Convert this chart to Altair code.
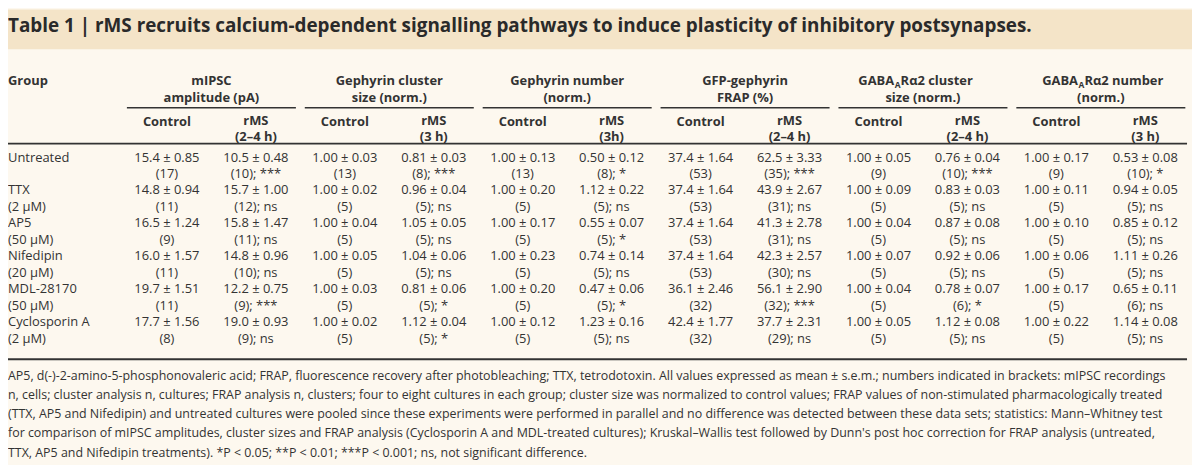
import altair as alt
import pandas as pd

# ---------------- data ----------------
title_text = ("Table 1 | rMS recruits calcium-dependent signalling pathways to induce "
              "plasticity of inhibitory postsynapses.")

groups = ["Untreated", "TTX", "AP5", "Nifedipin", "MDL-28170", "Cyclosporin A"]
concs = ["", "(2 μM)", "(50 μM)", "(20 μM)", "(50 μM)", "(2 μM)"]

measure_line1 = ["mIPSC", "Gephyrin cluster", "Gephyrin number", "GFP-gephyrin"]
measure_line2 = ["amplitude (pA)", "size (norm.)", "(norm.)", "FRAP (%)", "size (norm.)", "(norm.)"]
gaba_tail = ["Rα2 cluster", "Rα2 number"]
sub_control = ["Control"] * 6
sub_rms = ["rMS"] * 6
sub_time = ["(2–4 h)", "(3 h)", "(3h)", "(2–4 h)", "(2–4 h)", "(3 h)"]

mipsc_ctrl_mean = [15.4, 14.8, 16.5, 16.0, 19.7, 17.7]
mipsc_ctrl_sem = [0.85, 0.94, 1.24, 1.57, 1.51, 1.56]
mipsc_ctrl_n = [17, 11, 9, 11, 11, 8]
mipsc_rms_mean = [10.5, 15.7, 15.8, 14.8, 12.2, 19.0]
mipsc_rms_sem = [0.48, 1.00, 1.47, 0.96, 0.75, 0.93]
mipsc_rms_n = [10, 12, 11, 10, 9, 9]
mipsc_rms_sig = ["***", "ns", "ns", "ns", "***", "ns"]

gcs_ctrl_mean = [1.00, 1.00, 1.00, 1.00, 1.00, 1.00]
gcs_ctrl_sem = [0.03, 0.02, 0.04, 0.05, 0.03, 0.02]
gcs_ctrl_n = [13, 5, 5, 5, 5, 5]
gcs_rms_mean = [0.81, 0.96, 1.05, 1.04, 0.81, 1.12]
gcs_rms_sem = [0.03, 0.04, 0.05, 0.06, 0.06, 0.04]
gcs_rms_n = [8, 5, 5, 5, 5, 5]
gcs_rms_sig = ["***", "ns", "ns", "ns", "*", "*"]

gn_ctrl_mean = [1.00, 1.00, 1.00, 1.00, 1.00, 1.00]
gn_ctrl_sem = [0.13, 0.20, 0.17, 0.23, 0.20, 0.12]
gn_ctrl_n = [13, 5, 5, 5, 5, 5]
gn_rms_mean = [0.50, 1.12, 0.55, 0.74, 0.47, 1.23]
gn_rms_sem = [0.12, 0.22, 0.07, 0.14, 0.06, 0.16]
gn_rms_n = [8, 5, 5, 5, 5, 5]
gn_rms_sig = ["*", "ns", "*", "ns", "*", "ns"]

frap_ctrl_mean = [37.4, 37.4, 37.4, 37.4, 36.1, 42.4]
frap_ctrl_sem = [1.64, 1.64, 1.64, 1.64, 2.46, 1.77]
frap_ctrl_n = [53, 53, 53, 53, 32, 32]
frap_rms_mean = [62.5, 43.9, 41.3, 42.3, 56.1, 37.7]
frap_rms_sem = [3.33, 2.67, 2.78, 2.57, 2.90, 2.31]
frap_rms_n = [35, 31, 31, 30, 32, 29]
frap_rms_sig = ["***", "ns", "ns", "ns", "***", "ns"]

gabac_ctrl_mean = [1.00, 1.00, 1.00, 1.00, 1.00, 1.00]
gabac_ctrl_sem = [0.05, 0.09, 0.04, 0.07, 0.04, 0.05]
gabac_ctrl_n = [9, 5, 5, 5, 5, 5]
gabac_rms_mean = [0.76, 0.83, 0.87, 0.92, 0.78, 1.12]
gabac_rms_sem = [0.04, 0.03, 0.08, 0.06, 0.07, 0.08]
gabac_rms_n = [10, 5, 5, 5, 6, 5]
gabac_rms_sig = ["***", "ns", "ns", "ns", "*", "ns"]

gaban_ctrl_mean = [1.00, 1.00, 1.00, 1.00, 1.00, 1.00]
gaban_ctrl_sem = [0.17, 0.11, 0.10, 0.06, 0.17, 0.22]
gaban_ctrl_n = [9, 5, 5, 5, 5, 5]
gaban_rms_mean = [0.53, 0.94, 0.85, 1.11, 0.65, 1.14]
gaban_rms_sem = [0.08, 0.05, 0.12, 0.26, 0.11, 0.08]
gaban_rms_n = [10, 5, 5, 5, 6, 5]
gaban_rms_sig = ["*", "ns", "ns", "ns", "ns", "ns"]

footnote_lines = [
    "AP5, d(-)-2-amino-5-phosphonovaleric acid; FRAP, fluorescence recovery after photobleaching; TTX, tetrodotoxin. All values expressed as mean ± s.e.m.; numbers indicated in brackets: mIPSC recordings",
    "n, cells; cluster analysis n, cultures; FRAP analysis n, clusters; four to eight cultures in each group; cluster size was normalized to control values; FRAP values of non-stimulated pharmacologically treated",
    "(TTX, AP5 and Nifedipin) and untreated cultures were pooled since these experiments were performed in parallel and no difference was detected between these data sets; statistics: Mann–Whitney test",
    "for comparison of mIPSC amplitudes, cluster sizes and FRAP analysis (Cyclosporin A and MDL-treated cultures); Kruskal–Wallis test followed by Dunn's post hoc correction for FRAP analysis (untreated,",
    "TTX, AP5 and Nifedipin treatments). *P < 0.05; **P < 0.01; ***P < 0.001; ns, not significant difference.",
]

# ---------------- tables ----------------
columns = [
    (mipsc_ctrl_mean, mipsc_ctrl_sem, mipsc_ctrl_n, None, 1),
    (mipsc_rms_mean, mipsc_rms_sem, mipsc_rms_n, mipsc_rms_sig, 1),
    (gcs_ctrl_mean, gcs_ctrl_sem, gcs_ctrl_n, None, 2),
    (gcs_rms_mean, gcs_rms_sem, gcs_rms_n, gcs_rms_sig, 2),
    (gn_ctrl_mean, gn_ctrl_sem, gn_ctrl_n, None, 2),
    (gn_rms_mean, gn_rms_sem, gn_rms_n, gn_rms_sig, 2),
    (frap_ctrl_mean, frap_ctrl_sem, frap_ctrl_n, None, 1),
    (frap_rms_mean, frap_rms_sem, frap_rms_n, frap_rms_sig, 1),
    (gabac_ctrl_mean, gabac_ctrl_sem, gabac_ctrl_n, None, 2),
    (gabac_rms_mean, gabac_rms_sem, gabac_rms_n, gabac_rms_sig, 2),
    (gaban_ctrl_mean, gaban_ctrl_sem, gaban_ctrl_n, None, 2),
    (gaban_rms_mean, gaban_rms_sem, gaban_rms_n, gaban_rms_sig, 2),
]

cell_rows = []
for ci, (means, sems, ns, sigs, dec) in enumerate(columns):
    for gi in range(len(groups)):
        cell_rows.append({"ci": ci, "line": 2 * gi,
                          "text": f"{means[gi]:.{dec}f} ± {sems[gi]:.2f}"})
        ntxt = f"({ns[gi]})" if sigs is None else f"({ns[gi]}); {sigs[gi]}"
        cell_rows.append({"ci": ci, "line": 2 * gi + 1, "text": ntxt})
cells = pd.DataFrame(cell_rows)

grp_rows = []
for gi, (g, c) in enumerate(zip(groups, concs)):
    grp_rows.append({"line": 2 * gi, "text": g})
    if c:
        grp_rows.append({"line": 2 * gi + 1, "text": c})
grp_df = pd.DataFrame(grp_rows)

pair_centers = [2 * k + 0.5 for k in range(6)]
head1_df = pd.DataFrame({"ci": pair_centers[:4], "text": measure_line1})
head2_df = pd.DataFrame({"ci": pair_centers, "text": measure_line2})
gaba_df = pd.DataFrame({"ci": pair_centers[4:], "tail": gaba_tail})
rule_df = pd.DataFrame({"x0": [2 * k - 0.45 for k in range(6)],
                        "x1": [2 * k + 1.45 for k in range(6)]})
ctrl_df = pd.DataFrame({"ci": [2 * k for k in range(6)], "text": sub_control})
rms_df = pd.DataFrame({"ci": [2 * k + 1 for k in range(6)], "text": sub_rms, "time": sub_time})
foot_df = pd.DataFrame({"fl": list(range(len(footnote_lines))), "text": footnote_lines})
one = pd.DataFrame({"a": [0]})

# ---------------- styles ----------------
W, H = 1192, 457
FONT = "Open Sans"
INK = "#333333"
BAND = "#f4e4c8"
BODY = "#fdf8ef"

xs = alt.Scale(domain=[0, 11], range=[160, 1145], nice=False, zero=False)
ys = alt.Scale(domain=[0, 11], range=[149, 331.6], nice=False, zero=False)
fs = alt.Scale(domain=[0, 4], range=[369, 446], nice=False, zero=False)


def txt(**kw):
    base = dict(font=FONT, color=INK, baseline="middle")
    base.update(kw)
    return base


band = alt.Chart(one).mark_rect(color=BAND).encode(
    x=alt.value(0), x2=alt.value(W), y=alt.value(0), y2=alt.value(40))

title = alt.Chart(pd.DataFrame({"text": [title_text]})).mark_text(
    **txt(align="left", fontSize=19, fontWeight="bold", color="#2a2a2a")
).encode(x=alt.value(0), y=alt.value(17), text="text:N")

group_head = alt.Chart(pd.DataFrame({"text": ["Group"]})).mark_text(
    **txt(align="left", fontSize=13, fontWeight="bold")
).encode(x=alt.value(0), y=alt.value(72), text="text:N")

h1 = alt.Chart(head1_df).mark_text(**txt(align="center", fontSize=13, fontWeight="bold")).encode(
    x=alt.X("ci:Q", scale=xs, axis=None), y=alt.value(72), text="text:N")
h2 = alt.Chart(head2_df).mark_text(**txt(align="center", fontSize=13, fontWeight="bold")).encode(
    x=alt.X("ci:Q", scale=xs, axis=None), y=alt.value(89), text="text:N")

# GABA_A R alpha2 headers: "GABA" + subscript "A" + tail
gaba_parts = []
for i, off in enumerate([-29, -23]):
    sub = gaba_df.iloc[[i]]
    gaba_parts.append(
        alt.Chart(sub).mark_text(**txt(align="right", fontSize=13, fontWeight="bold"), dx=off).encode(
            x=alt.X("ci:Q", scale=xs, axis=None), y=alt.value(72), text=alt.value("GABA")))
    gaba_parts.append(
        alt.Chart(sub).mark_text(**txt(align="left", fontSize=8.5, fontWeight="bold"), dx=off + 0.5).encode(
            x=alt.X("ci:Q", scale=xs, axis=None), y=alt.value(76), text=alt.value("A")))
    gaba_parts.append(
        alt.Chart(sub).mark_text(**txt(align="left", fontSize=13, fontWeight="bold"), dx=off + 6.5).encode(
            x=alt.X("ci:Q", scale=xs, axis=None), y=alt.value(72), text="tail:N"))

thin_rules = alt.Chart(rule_df).mark_rule(color=INK, strokeWidth=1.5).encode(
    x=alt.X("x0:Q", scale=xs, axis=None), x2="x1:Q", y=alt.value(99))

ctrl = alt.Chart(ctrl_df).mark_text(**txt(align="center", fontSize=13, fontWeight="bold")).encode(
    x=alt.X("ci:Q", scale=xs, axis=None), y=alt.value(113), text="text:N")
rms1 = alt.Chart(rms_df).mark_text(**txt(align="center", fontSize=13, fontWeight="bold")).encode(
    x=alt.X("ci:Q", scale=xs, axis=None), y=alt.value(112), text="text:N")
rms2 = alt.Chart(rms_df).mark_text(**txt(align="center", fontSize=13, fontWeight="bold")).encode(
    x=alt.X("ci:Q", scale=xs, axis=None), y=alt.value(128), text="time:N")

thick_rule = alt.Chart(one).mark_rule(color=INK, strokeWidth=2).encode(
    x=alt.value(-2), x2=alt.value(1187), y=alt.value(135))
bottom_rule = alt.Chart(one).mark_rule(color=INK, strokeWidth=2).encode(
    x=alt.value(-2), x2=alt.value(1187), y=alt.value(352))

grp_text = alt.Chart(grp_df).mark_text(**txt(align="left", fontSize=13)).encode(
    x=alt.value(0), y=alt.Y("line:Q", scale=ys, axis=None), text="text:N")

cell_text = alt.Chart(cells).mark_text(**txt(align="center", fontSize=13)).encode(
    x=alt.X("ci:Q", scale=xs, axis=None), y=alt.Y("line:Q", scale=ys, axis=None), text="text:N")

foot = alt.Chart(foot_df).mark_text(**txt(align="left", fontSize=12.5)).encode(
    x=alt.value(0), y=alt.Y("fl:Q", scale=fs, axis=None), text="text:N")

chart = alt.layer(
    band, title, group_head, h1, h2, *gaba_parts, thin_rules, ctrl, rms1, rms2,
    thick_rule, bottom_rule, grp_text, cell_text, foot
).resolve_scale(x="independent", y="independent").properties(
    width=W, height=H, autosize=alt.AutoSizeParams(type="none"), padding=0,
    background=BODY
).configure_view(stroke=None)

chart.save("out.html", embed_options={"renderer": "svg", "actions": False})
